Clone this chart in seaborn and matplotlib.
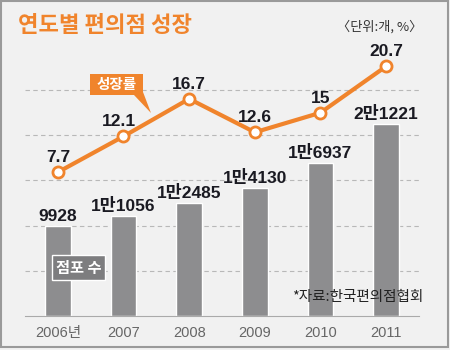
import numpy as np
import matplotlib.pyplot as plt
import matplotlib.patches as mpatches
import seaborn as sns

# data
years = ['2006년', '2007', '2008', '2009', '2010', '2011']
stores = [9928, 11056, 12485, 14130, 16937, 21221]
store_labels = ['9928', '1만1056', '1만2485', '1만4130', '1만6937', '2만1221']
growth = [7.7, 12.1, 16.7, 12.6, 15, 20.7]
growth_labels = ['7.7', '12.1', '16.7', '12.6', '15', '20.7']

ORANGE = '#f0842c'
GRAY = '#8d8d8f'
BG = '#f1f1f1'
FONTS = ['Liberation Sans', 'Noto Sans CJK KR', 'DejaVu Sans']
KFONTS = ['Noto Sans CJK KR', 'DejaVu Sans']

sns.set_style('white')
plt.rcParams['font.family'] = FONTS

fig = plt.figure(figsize=(4.5, 3.5), dpi=100, facecolor=BG)
ax = fig.add_axes([25 / 450, 34 / 350, 394 / 450, 271.5 / 350])
ax.set_facecolor(BG)

sns.barplot(x=years, y=stores, color=GRAY, width=0.395, saturation=1,
            ax=ax, zorder=2)
ax.bar_label(ax.containers[0], labels=store_labels, padding=1.5,
             fontsize=12.5, fontweight='bold', color='#1a1a22', family=FONTS)

ax.set_ylim(0, 30000)
ax.set_xlim(-0.5, 5.5)
ax.set_yticks([5000, 10000, 15000, 20000, 25000])
ax.set_yticklabels([])
ax.yaxis.grid(True, linestyle=(0, (4, 3)), color='#b8b8b8', linewidth=0.8)
ax.set_axisbelow(True)
ax.tick_params(axis='y', length=0)
ax.set_xticks(range(len(years)))
ax.set_xticklabels(years, fontsize=10.5, color='#666666')
ax.set_xticks(np.arange(-0.5, len(years), 1), minor=True)
ax.tick_params(axis='x', which='major', length=0, pad=7)
ax.tick_params(axis='x', which='minor', length=3, color='#aaaaaa', width=0.8)
for s in ['top', 'right', 'left']:
    ax.spines[s].set_visible(False)
ax.spines['bottom'].set_color('#aaaaaa')
ax.spines['bottom'].set_linewidth(0.8)

# growth line on twin axis
ax2 = ax.twinx()
sns.pointplot(x=years, y=growth, color=ORANGE, ax=ax2, markers='o',
              linewidth=3, markersize=8, markerfacecolor='white',
              markeredgewidth=2, markeredgecolor=ORANGE, zorder=3)
ax2.set_xlim(-0.5, 5.5)
ax2.set_ylim(-9.94, 23.37)
ax2.axis('off')
for i, (v, lab) in enumerate(zip(growth, growth_labels)):
    ax2.annotate(lab, (i, v), xytext=(-3 if i == 1 else 0, 5),
                 textcoords='offset points', ha='center', va='bottom',
                 fontsize=12.5, fontweight='bold', color='#1a1a22', family=FONTS)

# title and notes
fig.text(18 / 450, 1 - 25 / 350, '연도별 편의점 성장', fontsize=16,
         fontweight='bold', color=ORANGE, va='center', family=KFONTS)
fig.text(422 / 450, 1 - 27 / 350, '〈단위:개, %〉', fontsize=9.5,
         color='#333333', ha='right', va='center', family=KFONTS)
fig.text(423 / 450, 1 - 297 / 350, '*자료:한국편의점협회', fontsize=10.5,
         color='#222222', ha='right', va='center', family=KFONTS)

# legend tags
fig.patches.append(mpatches.Rectangle((90 / 450, 1 - 95 / 350), 53 / 450, 21 / 350,
                                      transform=fig.transFigure, facecolor=ORANGE,
                                      edgecolor='none', zorder=5))
fig.patches.append(mpatches.Polygon([(134 / 450, 1 - 95 / 350), (143 / 450, 1 - 92 / 350),
                                     (151 / 450, 1 - 113 / 350)],
                                    closed=True, transform=fig.transFigure,
                                    facecolor=ORANGE, edgecolor='none', zorder=5))
fig.text(116.5 / 450, 1 - 84.5 / 350, '성장률', fontsize=10.5, fontweight='bold',
         color='white', ha='center', va='center', family=KFONTS, zorder=6)

fig.patches.append(mpatches.Rectangle((52 / 450, 1 - 280 / 350), 53 / 450, 25 / 350,
                                      transform=fig.transFigure, facecolor='#7d7d7f',
                                      edgecolor='white', linewidth=1, zorder=5))
fig.text(78.5 / 450, 1 - 267.5 / 350, '점포 수', fontsize=11, fontweight='bold',
         color='white', ha='center', va='center', family=KFONTS, zorder=6)

# outer frame
fig.patches.append(mpatches.Rectangle((1 / 450, 3 / 350), 447 / 450, 346 / 350,
                                      transform=fig.transFigure, facecolor='none',
                                      edgecolor='#9a9a9a', linewidth=1.5, zorder=10))

fig.savefig('out.png', dpi=100, facecolor=BG)
